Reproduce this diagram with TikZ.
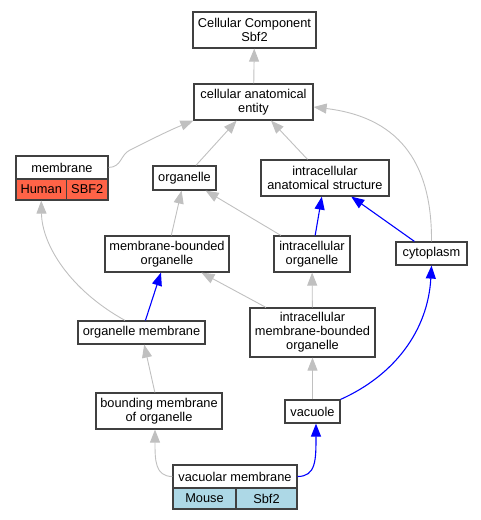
\documentclass[tikz,border=0pt]{standalone}
\usepackage{fontspec}
\setmainfont{Liberation Sans}
\usetikzlibrary{arrows.meta}
\definecolor{edgegray}{RGB}{192,192,192}
\definecolor{humanred}{RGB}{255,99,71}
\definecolor{mouseblue}{RGB}{173,216,230}

\begin{document}
\begin{tikzpicture}[x=1pt,y=-1pt,
    box/.style={draw=black!75, line width=1.2pt, fill=white, inner sep=0pt, align=center, font=\fontsize{12.8}{14}\selectfont},
    gedge/.style={draw=edgegray, line width=0.9pt, -{Triangle[length=13pt,width=10pt,fill=edgegray]}},
    bedge/.style={draw=blue, line width=1.1pt, -{Triangle[length=13pt,width=10pt,fill=blue]}}]

    \useasboundingbox (0,0) rectangle (481,520);

    \node[box, minimum width=123pt, minimum height=36pt] (cc) at (254.5,30) {Cellular Component\\Sbf2};
    \node[box, minimum width=119pt, minimum height=36pt] (cae) at (253.5,102) {cellular anatomical\\entity};

    \node[box, minimum width=92pt, minimum height=23pt] (mem) at (62,167.5) {membrane};
    \node[box, fill=humanred, minimum width=50.5pt, minimum height=21pt] (memhuman) at (41.25,189.5) {Human};
    \node[box, fill=humanred, minimum width=41.5pt, minimum height=21pt] (memsbf) at (87.25,189.5) {SBF2};

    \node[box, minimum width=63pt, minimum height=24pt] (org) at (184.5,178) {organelle};
    \node[box, minimum width=128pt, minimum height=36pt] (ias) at (325,178) {intracellular\\anatomical structure};
    \node[box, minimum width=124pt, minimum height=36pt] (mbo) at (167,254) {membrane-bounded\\organelle};
    \node[box, minimum width=76pt, minimum height=36pt] (io) at (312,254) {intracellular\\organelle};
    \node[box, minimum width=71pt, minimum height=23pt] (cyto) at (431.5,253.5) {cytoplasm};
    \node[box, minimum width=127pt, minimum height=23pt] (om) at (141.5,332.5) {organelle membrane};
    \node[box, minimum width=125pt, minimum height=49pt] (imbo) at (312.5,332.5) {intracellular\\membrane-bounded\\organelle};
    \node[box, minimum width=126pt, minimum height=36pt] (bm) at (159,411) {bounding membrane\\of organelle};
    \node[box, minimum width=55pt, minimum height=23pt] (vac) at (312.5,411.5) {vacuole};

    \node[box, minimum width=124pt, minimum height=23pt] (vm) at (235,476.5) {vacuolar membrane};
    \node[box, fill=mouseblue, minimum width=63pt, minimum height=21pt] (vmmouse) at (204.5,498.5) {Mouse};
    \node[box, fill=mouseblue, minimum width=61pt, minimum height=21pt] (vmsbf) at (266.5,498.5) {Sbf2};

    \draw[gedge] (cae) -- (cc);
    \draw[gedge] (mem.east) .. controls (122,167) and (120,155) .. (130,150) .. controls (150,140) and (170,130) .. (cae.south west);
    \draw[gedge] (org) -- (cae);
    \draw[gedge] (ias) -- (cae);
    \draw[gedge] (cyto.north) .. controls (432,170) and (405,118) .. ([yshift=-5pt]cae.east);

    \draw[gedge] (mbo) -- (org);
    \draw[gedge] (io) -- (org);
    \draw[bedge] (io) -- (ias);
    \draw[bedge] (cyto) -- (ias);

    \draw[gedge] ([xshift=-16.5pt]om.north) .. controls (70,290) and (42,245) .. (memhuman.south);
    \draw[bedge] (om) -- (mbo);
    \draw[gedge] (imbo) -- (mbo);
    \draw[gedge] (imbo) -- (io);

    \draw[gedge] (bm) -- (om);
    \draw[gedge] (vac) -- (imbo);
    \draw[bedge] (vac.north east) .. controls (395,375) and (428,330) .. (cyto.south);

    \draw[gedge] (vm.west) .. controls (155,476.5) and (155,460) .. ([xshift=-4pt]bm.south);
    \draw[bedge] (vm.east) .. controls (316,476.5) and (316,460) .. ([xshift=3.5pt]vac.south);

\end{tikzpicture}
\end{document}
